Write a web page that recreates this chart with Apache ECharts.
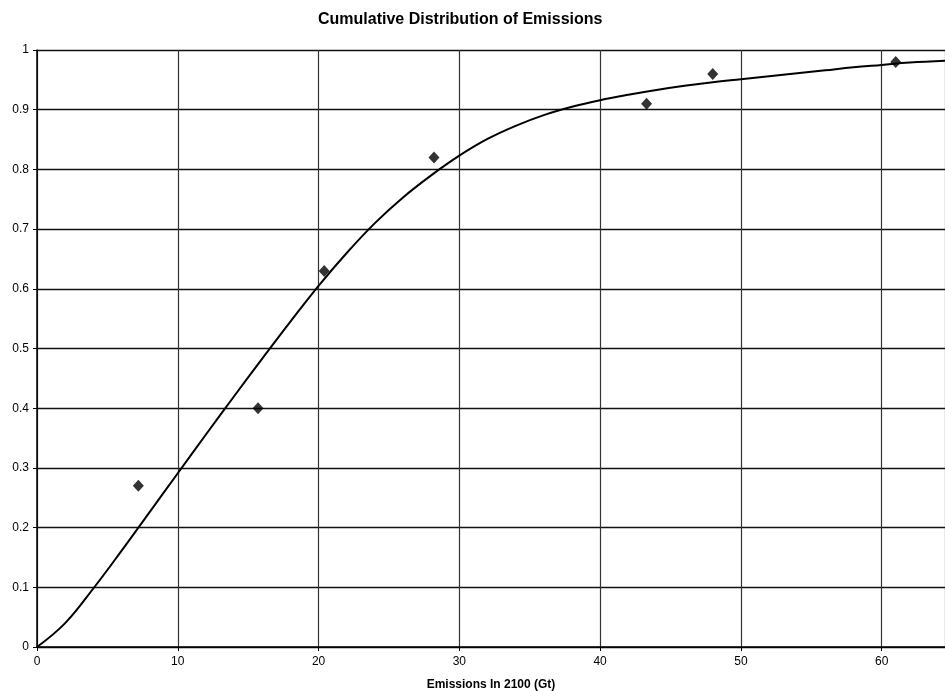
<!DOCTYPE html>
<html>
<head>
<meta charset="utf-8">
<script src="https://cdn.jsdelivr.net/npm/echarts@6/dist/echarts.min.js"></script>
<style>
  html, body { margin: 0; padding: 0; background: #fff; }
  #chart { width: 945px; height: 691px; }
</style>
</head>
<body>
<div id="chart"></div>
<script>
// fitted curve
var curveX = [0, 2, 4, 6, 8, 10, 12, 14, 16, 18, 20, 22, 24, 26, 28, 30, 32, 34, 36, 38, 40, 42, 44, 46, 48, 50, 52, 54, 56, 58, 60, 62, 64.5]
var curveY = [0, 0.04, 0.098, 0.161, 0.226, 0.291, 0.356, 0.42, 0.483, 0.545, 0.605, 0.66, 0.71, 0.753, 0.79, 0.823, 0.851, 0.873, 0.891, 0.905, 0.916, 0.925, 0.933, 0.94, 0.946, 0.951, 0.956, 0.961, 0.966, 0.971, 0.975, 0.979, 0.982]
// observed points
var obsX = [7.2, 15.7, 20.4, 28.2, 43.3, 48, 61]
var obsY = [0.27, 0.40, 0.63, 0.82, 0.91, 0.96, 0.98]

var font = 'Liberation Sans, Arial, sans-serif'

function pairs(xs, ys) {
  return xs.map(function (x, i) { return [x, ys[i]] })
}

var chart = echarts.init(document.getElementById('chart'))
chart.setOption({
  animation: false,
  title: {
    text: 'Cumulative Distribution of Emissions',
    left: 313,
    top: 7,
    textStyle: { fontFamily: font, fontSize: 16, fontWeight: 'bold', color: '#000' }
  },
  grid: { left: 37, right: 0, top: 50, bottom: 44, outerBoundsMode: 'none' },
  xAxis: {
    type: 'value',
    min: 0,
    max: 64.5,
    interval: 10,
    name: 'Emissions In 2100 (Gt)',
    nameLocation: 'middle',
    nameGap: 32,
    nameTextStyle: { fontFamily: font, fontSize: 12, fontWeight: 'bold', color: '#000' },
    axisLine: { lineStyle: { color: '#000', width: 1.5 } },
    axisTick: { show: true, length: 4, lineStyle: { color: '#000' } },
    axisLabel: { fontFamily: font, fontSize: 12, color: '#000', margin: 9, showMaxLabel: false },
    splitLine: { show: true, lineStyle: { color: '#333', width: 1.2 } }
  },
  yAxis: {
    type: 'value',
    min: 0,
    max: 1,
    interval: 0.1,
    axisLine: { show: true, lineStyle: { color: '#000', width: 1.5 } },
    axisTick: { show: true, length: 4, lineStyle: { color: '#000' } },
    axisLabel: { fontFamily: font, fontSize: 12, color: '#000', margin: 8 },
    splitLine: { show: true, lineStyle: { color: '#111', width: 1.4 } }
  },
  series: [
    {
      type: 'line',
      data: pairs(curveX, curveY),
      smooth: 0.4,
      showSymbol: false,
      lineStyle: { color: '#000', width: 2 },
      z: 3
    },
    {
      type: 'scatter',
      data: pairs(obsX, obsY),
      symbol: 'diamond',
      symbolSize: [11, 12],
      itemStyle: { color: '#000' },
      z: 4
    }
  ]
})
</script>
</body>
</html>
